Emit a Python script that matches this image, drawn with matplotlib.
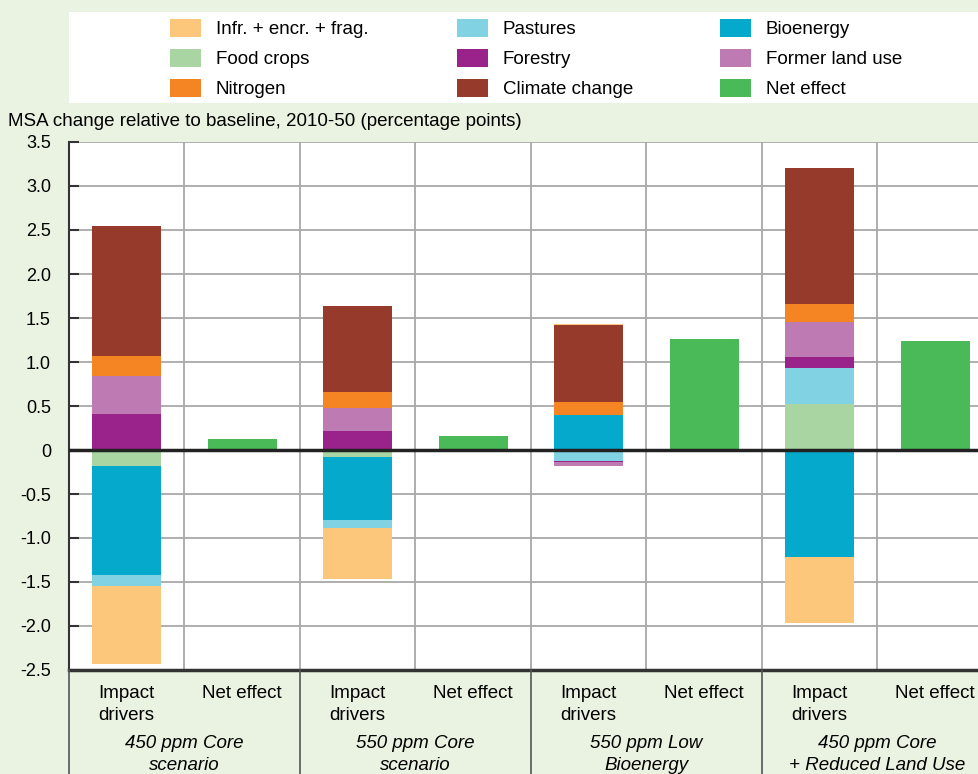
import matplotlib
matplotlib.use("Agg")
import matplotlib.pyplot as plt
import matplotlib.transforms as mtransforms
from matplotlib.patches import Rectangle
import numpy as np

plt.rcParams['font.family'] = ['Liberation Sans', 'DejaVu Sans']

#------------------------------------------------------------------------------
#   DATA (percentage points)
#------------------------------------------------------------------------------
scenarios = ["450 ppm Core\nscenario", "550 ppm Core\nscenario",
             "550 ppm Low\nBioenergy", "450 ppm Core\n+ Reduced Land Use"]
sub_labels = ["Impact\ndrivers", "Net effect"]

# stacking order (from the zero line outwards)
food_crops = [-0.18, -0.08, 0.0, 0.52]
bioenergy = [-1.24, -0.715, 0.395, -1.215]
pastures = [-0.13, -0.095, -0.125, 0.41]
forestry = [0.41, 0.22, -0.015, 0.13]
former_land_use = [0.43, 0.26, -0.04, 0.40]
nitrogen = [0.23, 0.18, 0.15, 0.20]
climate_change = [1.48, 0.98, 0.875, 1.54]
infr_encr_frag = [-0.88, -0.58, 0.01, -0.755]
net_effect = [0.12, 0.16, 1.26, 1.24]

drivers = [
    ("Food crops", food_crops, "#A8D5A2"),
    ("Bioenergy", bioenergy, "#05A9CC"),
    ("Pastures", pastures, "#81D3E3"),
    ("Forestry", forestry, "#9A238B"),
    ("Former land use", former_land_use, "#BE7BB3"),
    ("Nitrogen", nitrogen, "#F58522"),
    ("Climate change", climate_change, "#963B2B"),
    ("Infr. + encr. + frag.", infr_encr_frag, "#FCC77A"),
]
net_color = "#4AB958"

legend_rows = [["Infr. + encr. + frag.", "Pastures", "Bioenergy"],
               ["Food crops", "Forestry", "Former land use"],
               ["Nitrogen", "Climate change", "Net effect"]]

#------------------------------------------------------------------------------
#   FIGURE
#------------------------------------------------------------------------------
W, H = 979, 774
fig = plt.figure(figsize=(W / 100, H / 100), dpi=100, facecolor="#EAF2E1")

def fx(px):
    return px / W

def fy(py):
    return 1 - py / H

col_w = 115.5
ax_left, ax_top, ax_bot = 69, 142, 670
ax = fig.add_axes([fx(ax_left), fy(ax_bot), fx(W - ax_left), (ax_bot - ax_top) / H])
ax.set_facecolor("white")

n = len(scenarios)
x_imp = np.arange(n) * 2
x_net = x_imp + 1
width = 0.6

pos_base = np.zeros(n)
neg_base = np.zeros(n)
for name, vals, color in drivers:
    vals = np.array(vals)
    base = np.where(vals >= 0, pos_base, neg_base)
    ax.bar(x_imp, vals, width=width, bottom=base, color=color, zorder=3)
    pos_base += np.where(vals >= 0, vals, 0)
    neg_base += np.where(vals < 0, vals, 0)

ax.bar(x_net, net_effect, width=width, color=net_color, zorder=3)

ax.set_ylim(-2.5, 3.5)
ax.set_xlim(-0.5, -0.5 + (W - ax_left) / col_w)
yt = np.arange(-2.5, 3.51, 0.5)
ax.set_yticks(yt)
ax.set_yticklabels(["0" if abs(v) < 1e-9 else f"{v:.1f}" for v in yt], fontsize=13)
ax.tick_params(axis="y", direction="in", length=7, width=1.5, color="#333333",
               pad=13)
ax.set_xticks([])
for v in yt:
    ax.axhline(v, color="#a8a8a8", lw=1.3, zorder=1)
for xv in np.arange(0.5, 2 * n, 1.0):
    ax.axvline(xv, color="#a8a8a8", lw=1.3, zorder=1)
ax.axhline(0, color="#222222", lw=2.5, zorder=4)

for s in ["top", "right"]:
    ax.spines[s].set_visible(False)
ax.spines["left"].set_color("#333333")
ax.spines["left"].set_linewidth(1.5)
ax.spines["bottom"].set_color("#333333")
ax.spines["bottom"].set_linewidth(2.5)

# category labels under the axis
trans = mtransforms.blended_transform_factory(ax.transData, ax.transAxes)
px = 1.0 / (ax_bot - ax_top)
for i in range(n):
    ax.text(x_imp[i], -(685 - ax_bot) * px, sub_labels[0], transform=trans,
            ha="center", va="top", fontsize=13.5, linespacing=1.35)
    ax.text(x_net[i], -(685 - ax_bot) * px, sub_labels[1], transform=trans,
            ha="center", va="top", fontsize=13.5)
    ax.text(x_imp[i] + 0.5, -(735 - ax_bot) * px, scenarios[i], transform=trans,
            ha="center", va="top", fontsize=13.5, style="italic",
            linespacing=1.35)
for xv in np.arange(-0.5, 2 * n, 2.0):
    ax.plot([xv, xv], [0, -(H - ax_bot) * px], transform=trans, clip_on=False,
            color="#555555", lw=1.2, zorder=5)

# y axis title
fig.text(fx(8), fy(122), "MSA change relative to baseline, 2010-50 (percentage points)",
         ha="left", va="center", fontsize=13.5)

# legend box
fig.add_artist(Rectangle((fx(69), fy(103)), fx(W - 69), (103 - 12) / H,
                         transform=fig.transFigure, facecolor="white",
                         edgecolor="none"))
colors = {name: color for name, _, color in drivers}
colors["Net effect"] = net_color
col_x = [170, 457, 720]
row_y = [28, 58, 88]
for r, row in enumerate(legend_rows):
    for c, name in enumerate(row):
        fig.add_artist(Rectangle((fx(col_x[c]), fy(row_y[r] + 9)), fx(31), 18 / H,
                                 transform=fig.transFigure,
                                 facecolor=colors[name], edgecolor="none"))
        fig.text(fx(col_x[c] + 46), fy(row_y[r] + 1.5), name, ha="left", va="center",
                 fontsize=13.5)

fig.savefig("out.png", dpi=100, facecolor=fig.get_facecolor())
